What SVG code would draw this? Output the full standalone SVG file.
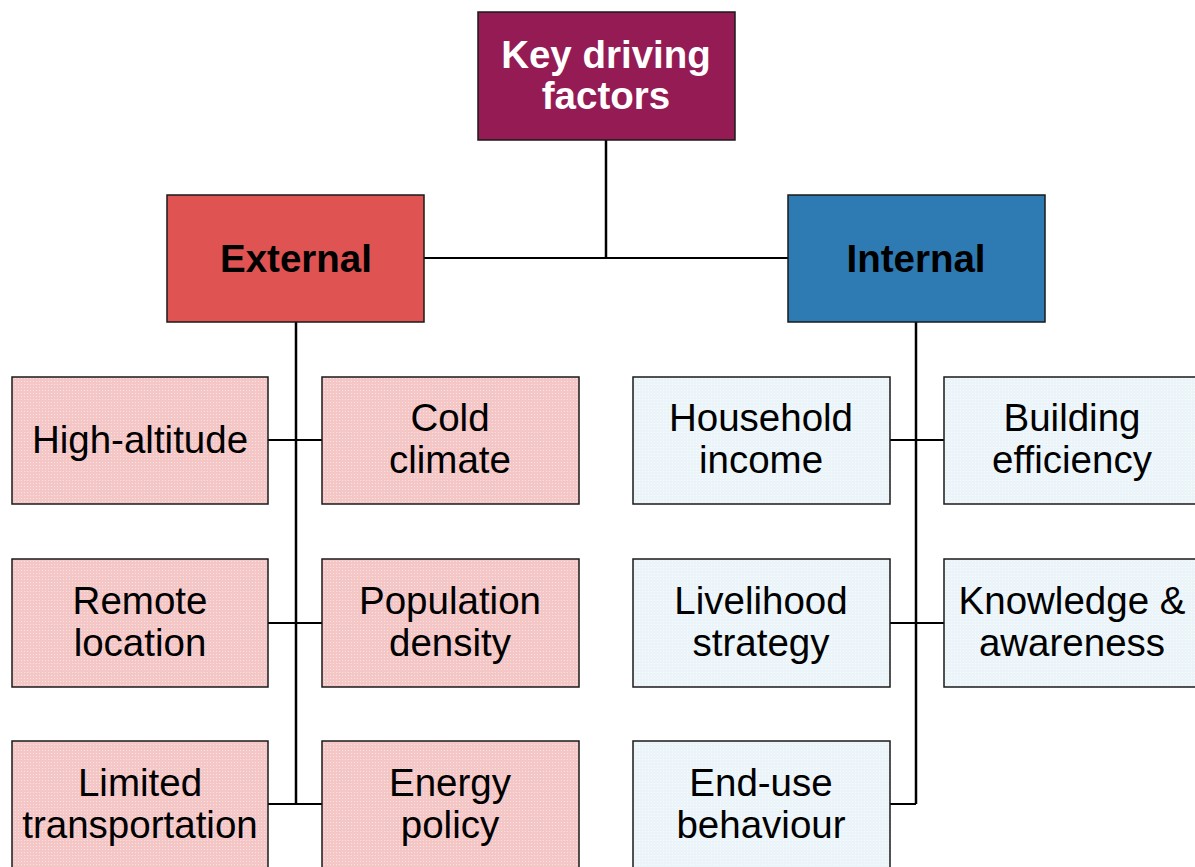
<svg xmlns="http://www.w3.org/2000/svg" width="1195" height="867" viewBox="0 0 1195 867">
<defs>
<pattern id="pinkTex" width="3" height="3" patternUnits="userSpaceOnUse">
<rect width="3" height="3" fill="#F4C6C6"/>
<rect width="1" height="1" fill="#FBE3E3"/>
</pattern>
<pattern id="blueTex" width="3" height="3" patternUnits="userSpaceOnUse">
<rect width="3" height="3" fill="#EAF4F9"/>
<rect width="1" height="1" fill="#F8FCFE"/>
</pattern>
</defs>
<style>
.box{stroke:#1a1a1a;stroke-width:1.5}
.pink{fill:url(#pinkTex)}
.blue{fill:url(#blueTex)}
.t{font-family:"Liberation Sans",Arial,sans-serif;font-size:38.5px;text-anchor:middle;fill:#000}
.b{font-weight:bold}
.w{fill:#fff}
.ln{stroke:#000;stroke-width:2;fill:none}
.vl{stroke:#000;stroke-width:2.5;fill:none}
</style>
<rect width="1195" height="867" fill="#fff"/>
<g id="connectors">
<line class="vl" x1="606" y1="140" x2="606" y2="258"/>
<line class="ln" x1="424" y1="258" x2="788" y2="258"/>
<line class="vl" x1="296" y1="322" x2="296" y2="804"/>
<line class="ln" x1="268" y1="440" x2="322" y2="440"/>
<line class="ln" x1="268" y1="623" x2="322" y2="623"/>
<line class="ln" x1="268" y1="804" x2="322" y2="804"/>
<line class="vl" x1="916" y1="322" x2="916" y2="804"/>
<line class="ln" x1="890" y1="440" x2="944" y2="440"/>
<line class="ln" x1="890" y1="623" x2="944" y2="623"/>
<line class="ln" x1="890" y1="804" x2="916" y2="804"/>
</g>
<g id="key">
<rect class="box" x="478" y="12" width="257" height="128" fill="#951B55"/>
<text class="t b w" x="606" y="68">Key driving</text>
<text class="t b w" x="606" y="109">factors</text>
</g>
<g id="external">
<rect class="box" x="167" y="195" width="257" height="127" fill="#E05353"/>
<text class="t b" x="296" y="272">External</text>
</g>
<g id="internal">
<rect class="box" x="788" y="195" width="257" height="127" fill="#2E7BB4"/>
<text class="t b" x="916" y="272">Internal</text>
</g>
<g id="high-altitude">
<rect class="box pink" x="12" y="377" width="256" height="127"/>
<text class="t" x="140" y="453">High-altitude</text>
</g>
<g id="cold-climate">
<rect class="box pink" x="322" y="377" width="257" height="127"/>
<text class="t" x="450" y="431">Cold</text>
<text class="t" x="450" y="473">climate</text>
</g>
<g id="remote-location">
<rect class="box pink" x="12" y="559" width="256" height="128"/>
<text class="t" x="140" y="614">Remote</text>
<text class="t" x="140" y="656">location</text>
</g>
<g id="population-density">
<rect class="box pink" x="322" y="559" width="257" height="128"/>
<text class="t" x="450" y="614">Population</text>
<text class="t" x="450" y="656">density</text>
</g>
<g id="limited-transportation">
<rect class="box pink" x="12" y="741" width="256" height="140"/>
<text class="t" x="140" y="796">Limited</text>
<text class="t" x="140" y="838">transportation</text>
</g>
<g id="energy-policy">
<rect class="box pink" x="322" y="741" width="257" height="140"/>
<text class="t" x="450" y="796">Energy</text>
<text class="t" x="450" y="838">policy</text>
</g>
<g id="household-income">
<rect class="box blue" x="633" y="377" width="257" height="127"/>
<text class="t" x="761" y="431">Household</text>
<text class="t" x="761" y="473">income</text>
</g>
<g id="building-efficiency">
<rect class="box blue" x="944" y="377" width="262" height="127"/>
<text class="t" x="1072" y="431">Building</text>
<text class="t" x="1072" y="473">efficiency</text>
</g>
<g id="livelihood-strategy">
<rect class="box blue" x="633" y="559" width="257" height="128"/>
<text class="t" x="761" y="614">Livelihood</text>
<text class="t" x="761" y="656">strategy</text>
</g>
<g id="knowledge-awareness">
<rect class="box blue" x="944" y="559" width="262" height="128"/>
<text class="t" x="1072" y="614">Knowledge &amp;</text>
<text class="t" x="1072" y="656">awareness</text>
</g>
<g id="end-use-behaviour">
<rect class="box blue" x="633" y="741" width="257" height="140"/>
<text class="t" x="761" y="796">End-use</text>
<text class="t" x="761" y="838">behaviour</text>
</g>
</svg>
